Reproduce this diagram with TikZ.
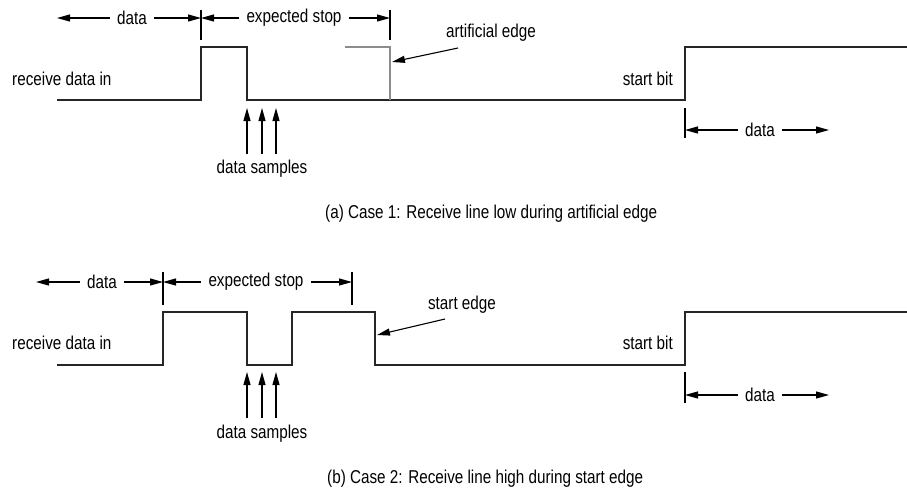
\documentclass[tikz,border=0pt]{standalone}
\usepackage{fontspec}
\setmainfont[FakeStretch=0.82]{Liberation Sans}
\usetikzlibrary{arrows.meta}
\begin{document}
\begin{tikzpicture}[x=1pt,y=-1pt,
  lbl/.style={font=\fontsize{18.6}{20}\selectfont, inner sep=0pt},
  dimlbl/.style={lbl, inner xsep=7pt},
  sig/.style={line width=1.5pt, draw=black!85},
  art/.style={line width=1.5pt, draw=black!45},
  tick/.style={line width=1.1pt},
  arr/.style={line width=1.1pt, -{Triangle[length=13pt,width=7pt]}}]
\useasboundingbox (0,0) rectangle (907,491);

% ================= (a) =================
\draw[sig] (57,100) -- (201,100) -- (201,47) -- (247,47) -- (247,100) -- (685,100) -- (685,47) -- (907,47);
\draw[art] (345,47) -- (390,47) -- (390,100);

\node[lbl, anchor=west] (rdA) at (12,79) {receive data in};
\node[lbl, anchor=east] (sbA) at (673,79) {start bit};

% ticks
\coordinate (tA1) at (201,18);
\coordinate (tA2) at (390,18);
\coordinate (tA3) at (685,130);
\draw[tick] (201,10) -- (201,40);
\draw[tick] (390,10) -- (390,40);
\draw[tick] (685,108) -- (685,138);

% data dimension
\node[dimlbl] (dA) at (132,18) {data};
\coordinate (dAL) at (57,18);
\draw[arr] (dA.west) -- (dAL);
\draw[arr] (dA.east) -- (tA1);
% expected stop
\node[dimlbl] (eA) at (294,18) {expected stop};
\draw[arr] (eA.west) -- (tA1);
\draw[arr] (eA.east) -- (tA2);
% bottom data
\node[dimlbl] (bA) at (760,130) {data};
\coordinate (bAR) at (829,130);
\draw[arr] (bA.west) -- (tA3);
\draw[arr] (bA.east) -- (bAR);

% artificial edge
\node[lbl] (aeA) at (491,33) {artificial edge};
\coordinate (aeS) at (458,48);
\coordinate (aeT) at (392,62);
\draw[arr] (aeS) -- (aeT);

% data samples
\node[lbl] (dsA) at (262,169) {data samples};
\foreach \x [count=\i] in {247,262,276}{
  \coordinate (sA\i b) at (\x,154);
  \coordinate (sA\i t) at (\x,108);
  \draw[arr] (sA\i b) -- (sA\i t);
}

\node[lbl, anchor=west] (capA) at (325,214) {(a) Case 1: Receive line low during artificial edge};

% ================= (b) =================
\draw[sig] (57,365) -- (163,365) -- (163,312) -- (247,312) -- (247,365) -- (292,365) -- (292,312) -- (375,312) -- (375,365) -- (685,365) -- (685,312) -- (907,312);

\node[lbl, anchor=west] (rdB) at (12,343) {receive data in};
\node[lbl, anchor=east] (sbB) at (673,343) {start bit};

\coordinate (tB1) at (163,282);
\coordinate (tB2) at (352,282);
\coordinate (tB3) at (685,395);
\draw[tick] (163,272) -- (163,305);
\draw[tick] (352,272) -- (352,305);
\draw[tick] (685,372) -- (685,403);

\node[dimlbl] (dB) at (102,282) {data};
\coordinate (dBL) at (36,282);
\draw[arr] (dB.west) -- (dBL);
\draw[arr] (dB.east) -- (tB1);
\node[dimlbl] (eB) at (256,282) {expected stop};
\draw[arr] (eB.west) -- (tB1);
\draw[arr] (eB.east) -- (tB2);
\node[dimlbl] (bB) at (760,395) {data};
\coordinate (bBR) at (829,395);
\draw[arr] (bB.west) -- (tB3);
\draw[arr] (bB.east) -- (bBR);

\node[lbl] (seB) at (462,305) {start edge};
\coordinate (seS) at (445,319);
\coordinate (seT) at (377,335);
\draw[arr] (seS) -- (seT);

\node[lbl] (dsB) at (262,434) {data samples};
\foreach \x [count=\i] in {247,262,276}{
  \coordinate (sB\i b) at (\x,418);
  \coordinate (sB\i t) at (\x,372);
  \draw[arr] (sB\i b) -- (sB\i t);
}

\node[lbl, anchor=west] (capB) at (327,479) {(b) Case 2: Receive line high during start edge};
\end{tikzpicture}
\end{document}
